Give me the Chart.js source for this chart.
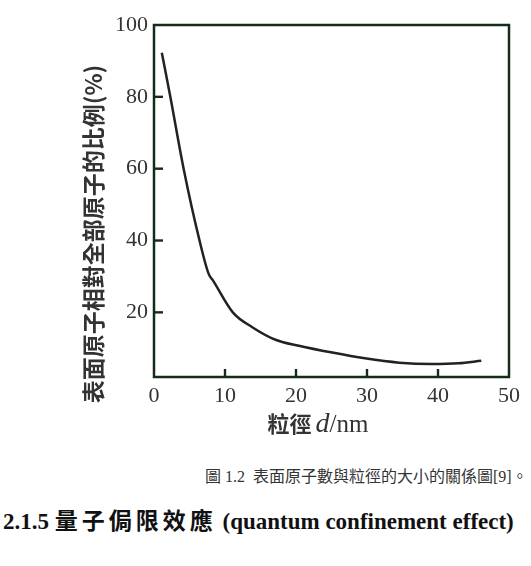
<!DOCTYPE html>
<html>
<head>
<meta charset="utf-8">
<script src="https://cdn.jsdelivr.net/npm/chart.js@4/dist/chart.umd.min.js"></script>
<style>
  body { margin: 0; background: #fff; width: 531px; height: 566px; position: relative; overflow: hidden; }
  #wrap { position: absolute; left: 0; top: 0; width: 531px; height: 440px; }
  .caption { position: absolute; left: 205px; top: 467px; font: 16px "Liberation Serif", "Noto Sans CJK TC", serif; color: #333; line-height: 20px; white-space: nowrap; }
  .heading { position: absolute; left: 3px; top: 509px; font: bold 23px "Liberation Serif", "Noto Sans CJK TC", serif; color: #111; line-height: 26px; white-space: nowrap; }
  .heading .cjk { letter-spacing: 4px; }
</style>
</head>
<body>
<div id="wrap"><canvas id="sizeChart"></canvas></div>
<div class="caption">圖 1.2&nbsp; 表面原子數與粒徑的大小的關係圖[9]。</div>
<div class="heading">2.1.5 <span class="cjk">量子侷限效應</span> (quantum confinement effect)</div>
<script>
// particle diameter d (nm) and surface atom share (%)
const diameter = [1.1, 2.3, 4.2, 6.4, 7.7, 8.3, 11.1, 13.9, 17.2, 20.4, 25.1, 29.7, 34.5, 39.1, 42.9, 46.1];
const ratio = [92.3, 80, 59.7, 40.1, 30.7, 28.9, 20, 15.8, 12.3, 10.7, 8.8, 7.2, 6.0, 5.6, 5.8, 6.5];

const xTicks = [0, 10, 20, 30, 40, 50];
const yTicks = [20, 40, 60, 80, 100];

const yTitle = "表面原子相對全部原子的比例(%)";
const xTitle = ["粒徑", "d", "/nm"];

const tickFont = { family: "Liberation Serif", size: 22 };
const frameInk = "rgb(20,45,25)";

// box, inner ticks and axis titles
const framePlugin = {
  id: "frame",
  afterDraw(chart) {
    const ctx = chart.ctx;
    const a = chart.chartArea;
    const x = chart.scales.x, y = chart.scales.y;
    ctx.save();
    ctx.strokeStyle = frameInk;
    ctx.lineWidth = 2.5;
    ctx.strokeRect(a.left, a.top, a.right - a.left, a.bottom - a.top);

    ctx.fillStyle = frameInk;
    for (const v of xTicks.slice(1, -1)) {
      const px = x.getPixelForValue(v);
      ctx.fillRect(px - 1.2, a.bottom - 8, 2.4, 8);
    }
    for (const v of yTicks.slice(0, -1)) {
      const py = y.getPixelForValue(v);
      ctx.fillRect(a.left, py - 1.2, 9, 2.4);
    }

    // y title, reads bottom to top
    ctx.fillStyle = "rgb(51,51,51)";
    ctx.save();
    ctx.translate(93, 234);
    ctx.rotate(-Math.PI / 2);
    ctx.textAlign = "center";
    ctx.textBaseline = "middle";
    ctx.font = 'bold 23px "Noto Sans CJK TC"';
    ctx.fillText(yTitle, 0, 0);
    ctx.restore();

    // x title: 粒徑 d/nm
    const fonts = ['bold 22px "Noto Sans CJK TC"', 'italic 28px "Liberation Serif"', '25px "Liberation Serif"'];
    const widths = xTitle.map((s, i) => { ctx.font = fonts[i]; return ctx.measureText(s).width; });
    const gap = 4;
    const total = widths.reduce((s, v) => s + v, 0) + gap;
    let cx = 318 - total / 2;
    ctx.textAlign = "left";
    ctx.textBaseline = "alphabetic";
    xTitle.forEach((s, i) => {
      ctx.font = fonts[i];
      ctx.fillText(s, cx, 432);
      cx += widths[i] + (i === 0 ? gap : 0);
    });
    ctx.restore();
  }
};

new Chart(document.getElementById("sizeChart"), {
  type: "line",
  data: {
    datasets: [{
      data: diameter.map((d, i) => ({ x: d, y: ratio[i] })),
      borderColor: "rgb(34,34,34)",
      borderWidth: 2.5,
      pointRadius: 0,
      cubicInterpolationMode: "monotone",
      fill: false
    }]
  },
  options: {
    responsive: true,
    maintainAspectRatio: false,
    animation: false,
    layout: { padding: { top: 25, right: 22, bottom: 0, left: 0 } },
    plugins: { legend: { display: false } },
    scales: {
      x: {
        type: "linear",
        min: 0,
        max: 50,
        grid: { display: false, drawTicks: false },
        border: { display: false },
        ticks: { stepSize: 10, font: tickFont, color: "#333", padding: 6, maxRotation: 0 },
        afterFit: s => { s.height = 63; }
      },
      y: {
        min: 2,
        max: 100,
        grid: { display: false, drawTicks: false },
        border: { display: false },
        ticks: { font: tickFont, color: "#333", padding: 6 },
        afterBuildTicks: s => { s.ticks = yTicks.map(v => ({ value: v })); },
        afterFit: s => { s.width = 154; }
      }
    }
  },
  plugins: [framePlugin]
});
</script>
</body>
</html>
